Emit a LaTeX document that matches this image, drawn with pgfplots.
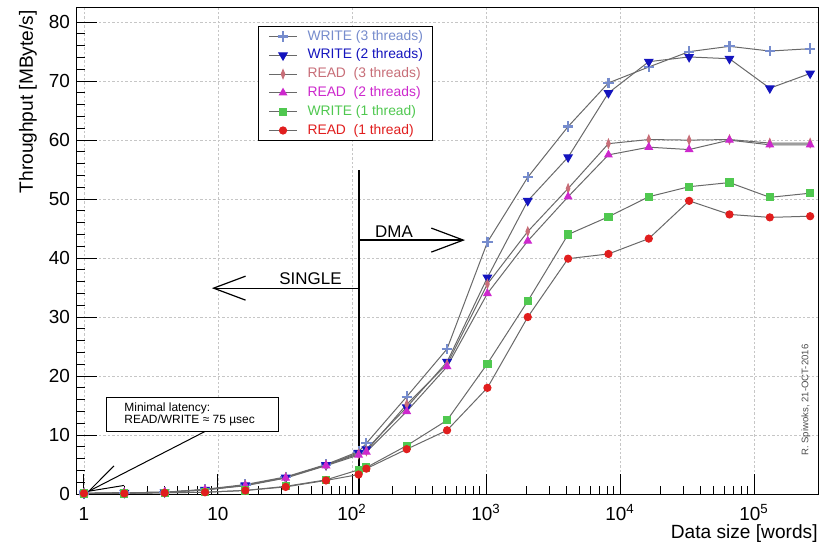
\documentclass[border=0pt]{standalone}
\usepackage{fontspec}
\setmainfont{Liberation Sans}
\usepackage{pgfplots}
\pgfplotsset{compat=1.18}
\usepackage{pgfplotstable}
\usetikzlibrary{arrows.meta}

\definecolor{cwthree}{RGB}{118,140,205}
\definecolor{cwtwo}{RGB}{20,20,190}
\definecolor{crthree}{RGB}{200,110,120}
\definecolor{crtwo}{RGB}{205,40,205}
\definecolor{cwone}{RGB}{80,200,80}
\definecolor{crone}{RGB}{225,30,30}
\definecolor{linegray}{RGB}{105,105,105}

% throughput [MByte/s] vs data size [words]
\pgfplotstableread{
x       w3    w2    r3    r2    w1    r1
1       0.1   0.1   0.1   0.1   0.1   0.1
2       0.2   0.2   0.2   0.2   0.1   0.1
4       0.3   0.3   0.3   0.3   0.2   0.2
8       0.8   0.7   0.7   0.7   0.3   0.3
16      1.6   1.5   1.5   1.4   0.6   0.6
32      2.9   2.8   2.8   2.7   1.3   1.2
64      5.0   4.9   4.9   4.8   2.4   2.3
112     7.2   7.0   6.8   6.6   4.1   3.3
128     8.6   7.6   7.3   7.1   4.5   4.3
256     16.5  14.7  15.2  14.0  8.2   7.6
512     24.6  22.4  22.0  21.6  12.5  10.8
1024    42.7  36.7  35.6  34.0  22.1  18.0
2048    53.7  49.7  44.5  42.9  32.7  30.0
4096    62.3  57.1  51.8  50.4  44.0  39.9
8192    69.7  68.0  59.4  57.5  47.0  40.7
16384   72.4  73.3  60.1  58.8  50.4  43.3
32768   75.0  74.1  60.0  58.4  52.1  49.7
65536   75.9  73.8  60.1  60.0  52.8  47.4
131072  75.1  68.8  59.5  59.2  50.3  46.9
262144  75.5  71.3  59.5  59.2  51.0  47.1
}\tput

\begin{document}
\begin{tikzpicture}
\useasboundingbox (-38.5bp,-26.5bp) rectangle (372bp,247bp);
\begin{axis}[
  scale only axis, width=370.5bp, height=243bp,
  xmode=log, xmin=0.887, xmax=3e5,
  ymin=0, ymax=82.4,
  clip=false,
  axis line style={line width=0.5bp},
  tick align=inside, xtick pos=bottom, ytick pos=left,
  major tick length=10bp, minor tick length=4bp,
  every tick/.style={black, line width=0.5bp},
  xtick={1,10,100,1000,10000,100000},
  xticklabels={1,10,10\textsuperscript{2},10\textsuperscript{3},10\textsuperscript{4},10\textsuperscript{5}},
  ytick={0,10,...,80}, minor y tick num=4,
  /pgf/number format/assume math mode=true,
  tick label style={font=\fontsize{9.5}{11}\selectfont},
  xticklabel style={inner sep=0pt, text height=9bp, text depth=0pt, yshift=-4.3bp},
  grid=major,
  major grid style={gray!45, line width=0.4bp, dash pattern=on 1.2bp off 1bp},
  legend cell align=left,
  legend image code/.code={\path (0bp,0bp) -- (14bp,0bp);
    \draw[#1,only marks] plot coordinates {(7bp,0bp)};},
  legend style={at={(axis description cs:0.2443,0.963)}, anchor=north west,
    draw=black, line width=0.5bp, fill=white,
    font=\fontsize{6.95}{8}\selectfont,
    inner xsep=5bp, inner ysep=1.6bp, row sep=2.6bp, column sep=5bp,
    nodes={inner sep=0pt, text height=5.2bp, text depth=1.6bp, anchor=west}},
  ser/.style={color=linegray, line width=0.5bp},
]
\addplot[ser, mark=+, mark size=2.6bp, mark options={draw=cwthree, line width=1.1bp}]
  table[x=x,y=w3]{\tput};
\addlegendentry{\textcolor{cwthree}{WRITE (3 threads)}}
\addplot[ser, mark=triangle*, mark size=2.4bp, mark options={draw=cwtwo, fill=cwtwo, rotate=180}]
  table[x=x,y=w2]{\tput};
\addlegendentry{\textcolor{cwtwo}{WRITE (2 threads)}}
\addplot[ser, mark=diamond*, mark size=2.2bp, mark options={draw=crthree, fill=crthree, xscale=0.55}]
  table[x=x,y=r3]{\tput};
\addlegendentry{\textcolor{crthree}{READ\ \ (3 threads)}}
\addplot[ser, mark=triangle*, mark size=2.1bp, mark options={draw=crtwo, fill=crtwo}]
  table[x=x,y=r2]{\tput};
\addlegendentry{\textcolor{crtwo}{READ\ \ (2 threads)}}
\addplot[ser, mark=square*, mark size=1.8bp, mark options={draw=cwone, fill=cwone}]
  table[x=x,y=w1]{\tput};
\addlegendentry{\textcolor{cwone}{WRITE (1 thread)}}
\addplot[ser, mark=*, mark size=1.8bp, mark options={draw=crone, fill=crone}]
  table[x=x,y=r1]{\tput};
\addlegendentry{\textcolor{crone}{READ\ \ (1 thread)}}

% SINGLE / DMA boundary
\draw[line width=0.8bp] (axis cs:112.8,0) -- (axis cs:112.8,54.9);
\draw[line width=0.6bp, -{Straight Barb[length=16bp,width=12bp]}]
  (axis cs:112.8,43.05) -- (axis cs:697,43.05);
\draw[line width=0.6bp, -{Straight Barb[length=16bp,width=12bp]}]
  (axis cs:112.8,34.9) -- (axis cs:9.0,34.9);
\node[anchor=base, inner sep=0pt, font=\fontsize{8.5}{10}\selectfont] at (axis cs:205.7,43.5) {DMA};
\node[anchor=base, inner sep=0pt, font=\fontsize{8.5}{10}\selectfont] at (axis cs:49.0,35.6) {SINGLE};

% latency box
\draw[line width=0.5bp, fill=white] (axis cs:1.46,10.6) rectangle (axis cs:28.5,16.4);
\node[anchor=base west, inner sep=0pt, font=\fontsize{6}{7}\selectfont] at (axis cs:1.99,14.05) {Minimal latency:};
\node[anchor=base west, inner sep=0pt, font=\fontsize{6}{7}\selectfont] at (axis cs:1.99,12.0) {READ/WRITE ≈ 75 µsec};
\draw[line width=0.5bp, -{Straight Barb[length=17bp,width=11bp]}]
  (axis cs:8.0,10.6) -- (axis cs:1.06,0.35);

\node[rotate=90, inner sep=0pt, text=black!70, font=\fontsize{4.8}{5}\selectfont] at (axis cs:2.44e5,15.9) {R. Spiwoks, 21-OCT-2016};

% axis titles
\node[rotate=90, anchor=east, inner sep=0pt, font=\fontsize{9.6}{11}\selectfont]
  at ([xshift=-24.5bp,yshift=-1bp]axis description cs:0,1) {Throughput [MByte/s]};
\node[anchor=base east, inner sep=0pt, text height=6.6bp, font=\fontsize{9.6}{11}\selectfont]
  at ([yshift=-22.3bp]axis description cs:1,0) {Data size [words]};
\end{axis}
\end{tikzpicture}
\end{document}
